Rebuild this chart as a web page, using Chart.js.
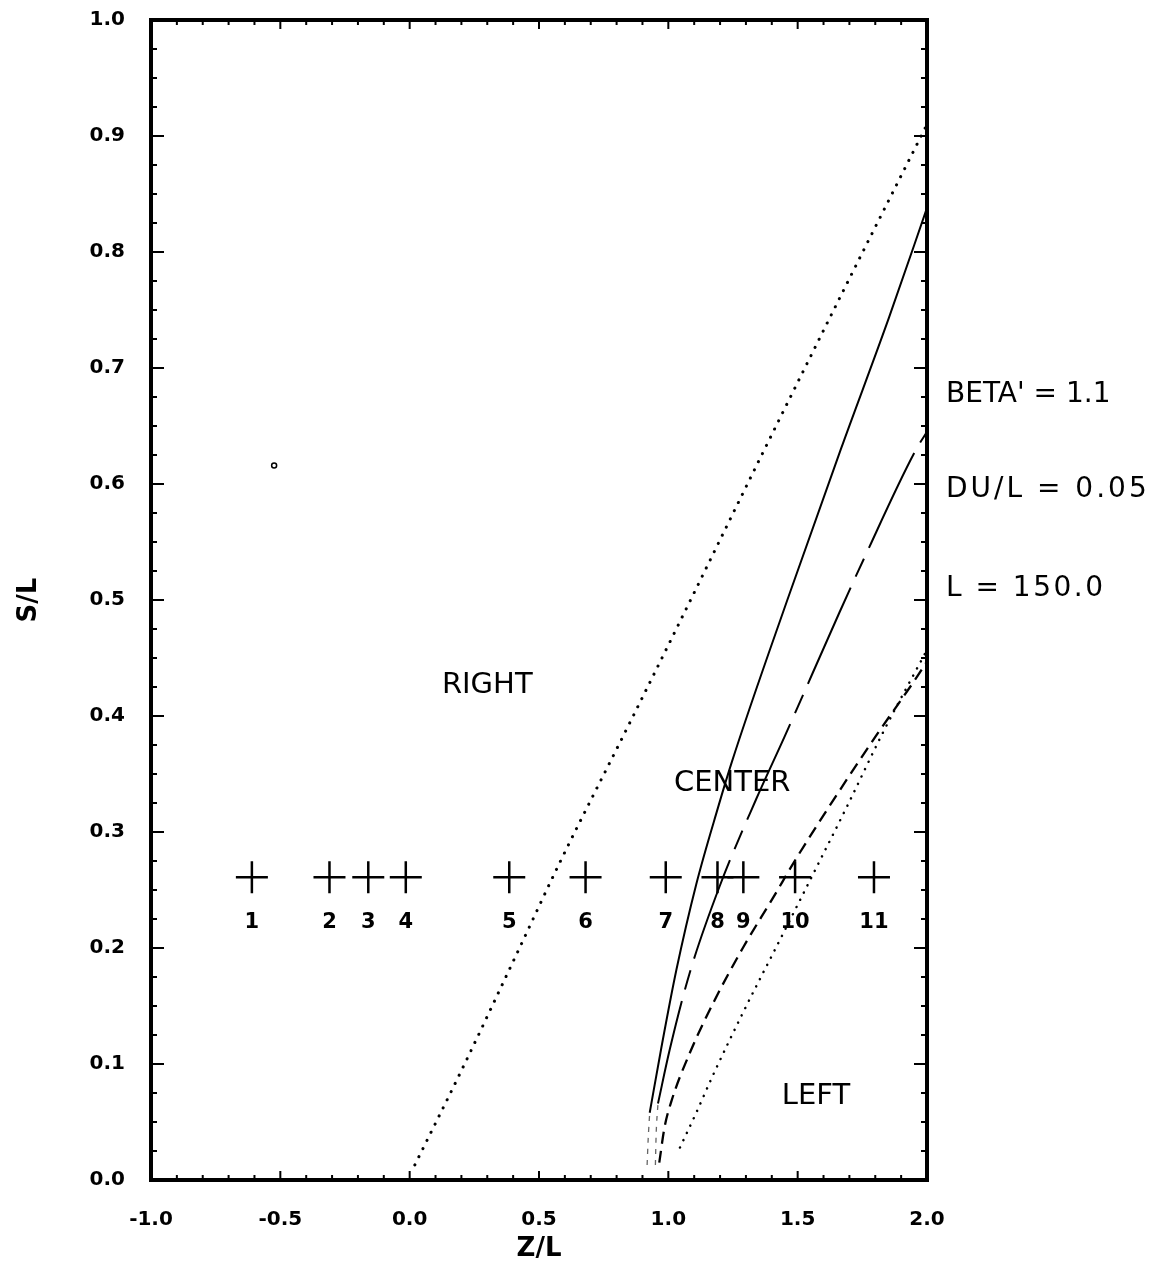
<!DOCTYPE html>
<html><head><meta charset="utf-8">
<script src="https://cdn.jsdelivr.net/npm/chart.js@4.4.1/dist/chart.umd.min.js"></script>
<style>html,body{margin:0;padding:0;background:#fff}#wrap{width:1174px;height:1265px}canvas{display:block}</style>
</head><body><div id="wrap"><canvas id="c" width="1174" height="1265"></canvas></div>
<script>
// ---- data ----
const xTickValues = [-1.0, -0.5, 0.0, 0.5, 1.0, 1.5, 2.0];
const yTickValues = [0.0, 0.1, 0.2, 0.3, 0.4, 0.5, 0.6, 0.7, 0.8, 0.9, 1.0];

const stationX = [-0.61, -0.31, -0.16, -0.015, 0.385, 0.68, 0.99, 1.19, 1.29, 1.49, 1.795];
const stationY = [0.261, 0.261, 0.261, 0.261, 0.261, 0.261, 0.261, 0.261, 0.261, 0.261, 0.261];
const stationLabels = ['1','2','3','4','5','6','7','8','9','10','11'];
const stationLabelY = 0.222;

// dotted boundary (RIGHT / CENTER)
const rightBoundX = [0.02, 0.208, 0.414, 0.581, 0.844, 1.044, 1.361, 1.693, 2.0];
const rightBoundY = [0.013, 0.098, 0.195, 0.274, 0.391, 0.481, 0.625, 0.774, 0.91];

// solid curve
const solidX = [0.928, 0.973, 1.031, 1.108, 1.192, 1.245, 1.46, 1.667, 1.854, 2.0];
const solidY = [0.058, 0.114, 0.181, 0.255, 0.321, 0.360, 0.50, 0.630, 0.744, 0.838];
const solidTailX = [0.918, 0.922, 0.928];
const solidTailY = [0.013, 0.035, 0.058];

// long-dash curve
const longDashX = [0.960, 1.005, 1.082, 1.198, 1.339, 1.449, 1.661, 1.757, 1.956, 2.0];
const longDashY = [0.066, 0.112, 0.178, 0.253, 0.328, 0.382, 0.489, 0.536, 0.629, 0.645];
const longDashTailX = [0.950, 0.953, 0.960];
const longDashTailY = [0.013, 0.040, 0.066];

// short-dash curve
const shortDashX = [0.965, 0.985, 1.012, 1.082, 1.179, 1.288, 1.404, 1.494, 1.622, 1.80, 1.95, 2.0];
const shortDashY = [0.015, 0.045, 0.068, 0.109, 0.155, 0.200, 0.243, 0.277, 0.322, 0.382, 0.430, 0.447];

// dotted boundary (CENTER / LEFT)
const leftBoundX = [1.045, 1.108, 1.172, 1.288, 1.436, 1.558, 1.693, 1.828, 2.0];
const leftBoundY = [0.028, 0.058, 0.090, 0.144, 0.209, 0.263, 0.323, 0.385, 0.457];

// stray mark in the original
const strayX = [-0.524];
const strayY = [0.616];

const regionLabels = ['RIGHT', 'CENTER', 'LEFT'];
const regionLabelX = [0.30, 1.247, 1.571];
const regionLabelY = [0.426, 0.342, 0.0716];

const paramLabels = ["BETA' = 1.1", 'DU/L = 0.05', 'L = 150.0'];
const paramLabelY = [0.677, 0.595, 0.510];

// ---- helpers ----
const pts = (xs, ys) => xs.map((x, i) => ({x, y: ys[i]}));
const FONT = "'DejaVu Sans', sans-serif";

const frameAndTicks = {
  id: 'frameAndTicks',
  afterDatasetsDraw(chart) {
    const {ctx, chartArea: a, scales: {x, y}} = chart;
    ctx.save();
    ctx.strokeStyle = '#000';
    ctx.lineCap = 'butt';
    ctx.lineWidth = 2;
    for (let i = 0; i <= 30; i++) {
      const v = -1 + i * 0.1;
      const px = x.getPixelForValue(v);
      const major = i % 5 === 0;
      const len = major ? 9 : 5;
      ctx.beginPath();
      ctx.moveTo(px, a.top); ctx.lineTo(px, a.top + len);
      ctx.moveTo(px, a.bottom); ctx.lineTo(px, a.bottom - len);
      ctx.stroke();
    }
    for (let i = 0; i <= 40; i++) {
      const v = i * 0.025;
      const py = y.getPixelForValue(v);
      const major = i % 4 === 0;
      const len = major ? 13 : 6;
      ctx.beginPath();
      ctx.moveTo(a.left, py); ctx.lineTo(a.left + len, py);
      ctx.moveTo(a.right, py); ctx.lineTo(a.right - len, py);
      ctx.stroke();
    }
    ctx.lineWidth = 4;
    ctx.strokeRect(a.left, a.top, a.right - a.left, a.bottom - a.top);

    ctx.fillStyle = '#000';
    ctx.textAlign = 'center';
    ctx.textBaseline = 'middle';
    ctx.font = "bold 21px " + FONT;
    stationLabels.forEach((t, i) => {
      ctx.fillText(t, x.getPixelForValue(stationX[i]), y.getPixelForValue(stationLabelY));
    });
    ctx.font = "29px " + FONT;
    regionLabels.forEach((t, i) => {
      ctx.fillText(t, x.getPixelForValue(regionLabelX[i]), y.getPixelForValue(regionLabelY[i]));
    });
    ctx.textAlign = 'left';
    ctx.font = "28px " + FONT;
    const spacing = ['0px', '3px', '2.5px'];
    paramLabels.forEach((t, i) => {
      ctx.letterSpacing = spacing[i];
      ctx.fillText(t, a.right + 19, y.getPixelForValue(paramLabelY[i]));
    });
    ctx.letterSpacing = '0px';
    ctx.restore();
  }
};

const dotted = (data, w, gap) => ({
  data, showLine: true, pointRadius: 0, borderColor: '#000', borderWidth: w,
  borderDash: [0.1, gap], borderCapStyle: 'round', cubicInterpolationMode: 'monotone', fill: false
});
const curve = (data, w, dash, color) => ({
  data, showLine: true, pointRadius: 0, borderColor: color || '#000', borderWidth: w,
  borderDash: dash, cubicInterpolationMode: 'monotone', fill: false
});

new Chart(document.getElementById('c'), {
  type: 'scatter',
  data: {
    datasets: [
      dotted(pts(rightBoundX, rightBoundY), 3, 9),
      curve(pts(solidX, solidY), 2, []),
      curve(pts(solidTailX, solidTailY), 1.3, [5, 6], '#666'),
      curve(pts(longDashX, longDashY), 2, [105, 12, 20, 12]),
      curve(pts(longDashTailX, longDashTailY), 1.3, [5, 6], '#666'),
      curve(pts(shortDashX, shortDashY), 2.3, [12, 7]),
      dotted(pts(leftBoundX, leftBoundY), 2.5, 8),
      {data: pts(stationX, stationY), showLine: false, pointStyle: 'cross', pointRadius: 16, borderColor: '#000', borderWidth: 2.5},
      {data: pts(strayX, strayY), showLine: false, pointStyle: 'circle', pointRadius: 2.5, borderColor: '#000', backgroundColor: '#fff', borderWidth: 1.5}
    ]
  },
  options: {
    responsive: false,
    devicePixelRatio: 1,
    animation: false,
    events: [],
    layout: {autoPadding: false, padding: {left: 0, right: 247, top: 20, bottom: 0}},
    plugins: {legend: {display: false}, tooltip: {enabled: false}},
    scales: {
      x: {
        type: 'linear', position: 'bottom', min: -1, max: 2,
        afterBuildTicks: s => { s.ticks = xTickValues.map(v => ({value: v})); },
        afterFit: s => { s.height = 85; s.paddingLeft = 10; s.paddingRight = 10; },
        grid: {display: false}, border: {display: false},
        ticks: {callback: v => v.toFixed(1), color: '#000', padding: 20, autoSkip: false, maxRotation: 0,
                font: {family: FONT, size: 20, weight: 'bold'}},
        title: {display: true, text: 'Z/L', color: '#000', padding: {top: 0, bottom: 0},
                font: {family: FONT, size: 26, weight: 'bold'}}
      },
      y: {
        type: 'linear', position: 'left', min: 0, max: 1,
        afterBuildTicks: s => { s.ticks = yTickValues.map(v => ({value: v})); },
        afterFit: s => { s.width = 151; s.paddingTop = 10; s.paddingBottom = 10; },
        grid: {display: false}, border: {display: false},
        ticks: {callback: v => v.toFixed(1), color: '#000', padding: 18, autoSkip: false,
                font: {family: FONT, size: 20, weight: 'bold'}},
        title: {display: true, text: 'S/L', color: '#000', padding: {top: 14, bottom: 0},
                font: {family: FONT, size: 26, weight: 'bold'}}
      }
    }
  },
  plugins: [frameAndTicks]
});
</script>
</body></html>
